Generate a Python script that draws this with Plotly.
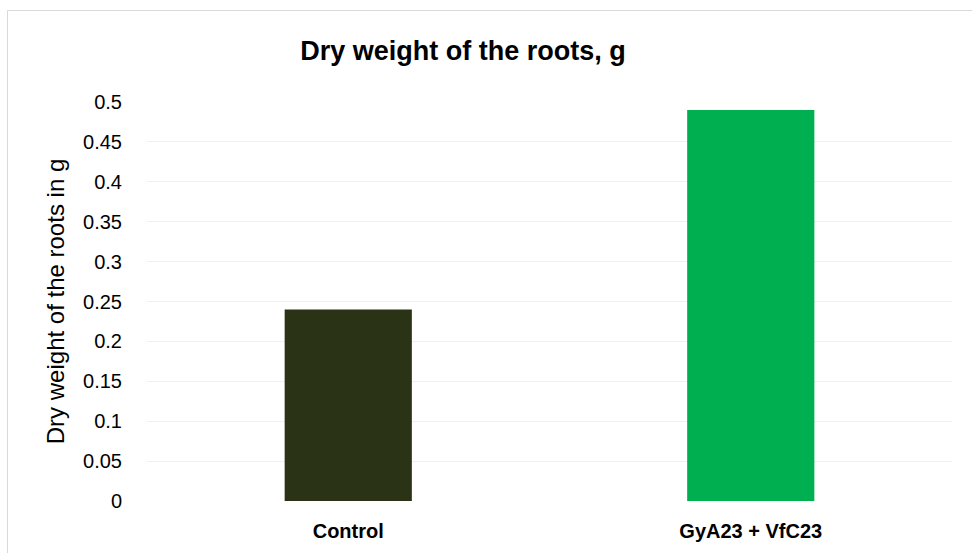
import plotly.graph_objects as go

# Root dry weight per treatment (g)
categories = ["Control", "GyA23 + VfC23"]
dry_weight = [0.24, 0.49]
bar_colors = ["#2a3316", "#00b050"]
tick_values = [0, 0.05, 0.1, 0.15, 0.2, 0.25, 0.3, 0.35, 0.4, 0.45, 0.5]
tick_labels = ["0", "0.05", "0.1", "0.15", "0.2", "0.25", "0.3", "0.35", "0.4", "0.45", "0.5"]

W, H = 972, 553
ML, MR, MT, MB = 147, 20, 102, 52
FONT = "Liberation Sans, Arial, sans-serif"

fig = go.Figure(
    go.Bar(
        x=categories,
        y=dry_weight,
        marker=dict(color=bar_colors, line=dict(width=0)),
        hoverinfo="x+y",
    )
)

# chart frame around the whole figure (paper coordinates)
pw, ph = W - ML - MR, H - MT - MB
def px_x(p):
    return (p - ML) / pw
def px_y(p):
    return (H - MB - p) / ph

fig.add_shape(
    type="rect", xref="paper", yref="paper",
    x0=px_x(7.5), x1=px_x(990), y0=px_y(10.5), y1=px_y(570),
    line=dict(color="#d9d9d9", width=1), fillcolor="rgba(0,0,0,0)", layer="below",
)

fig.update_layout(
    width=W, height=H,
    margin=dict(l=ML, r=MR, t=MT, b=MB),
    paper_bgcolor="white", plot_bgcolor="white",
    font=dict(family=FONT, color="#000000"),
    title=dict(
        text="<b>Dry weight of the roots, g</b>",
        x=463 / W, xanchor="center",
        y=1 - 51 / H, yanchor="middle",
        font=dict(size=27, color="#000000", family=FONT),
    ),
    bargap=0.684,
    showlegend=False,
    xaxis=dict(
        showgrid=False, zeroline=False, showline=False, ticks="",
        tickfont=dict(size=20, color="#000000", weight="bold", family=FONT),
        ticklabelstandoff=16,
    ),
    yaxis=dict(
        range=[0, 0.5],
        tickvals=tick_values, ticktext=tick_labels,
        showgrid=True, gridcolor="#f0f0f0", gridwidth=1,
        zeroline=False, showline=False, ticks="",
        tickfont=dict(size=20, color="#000000", family=FONT),
        ticklabelstandoff=24,
        title=dict(text="Dry weight of the roots in g", font=dict(size=24, color="#000000", family=FONT), standoff=11),
    ),
)

fig.write_html("out.html")
